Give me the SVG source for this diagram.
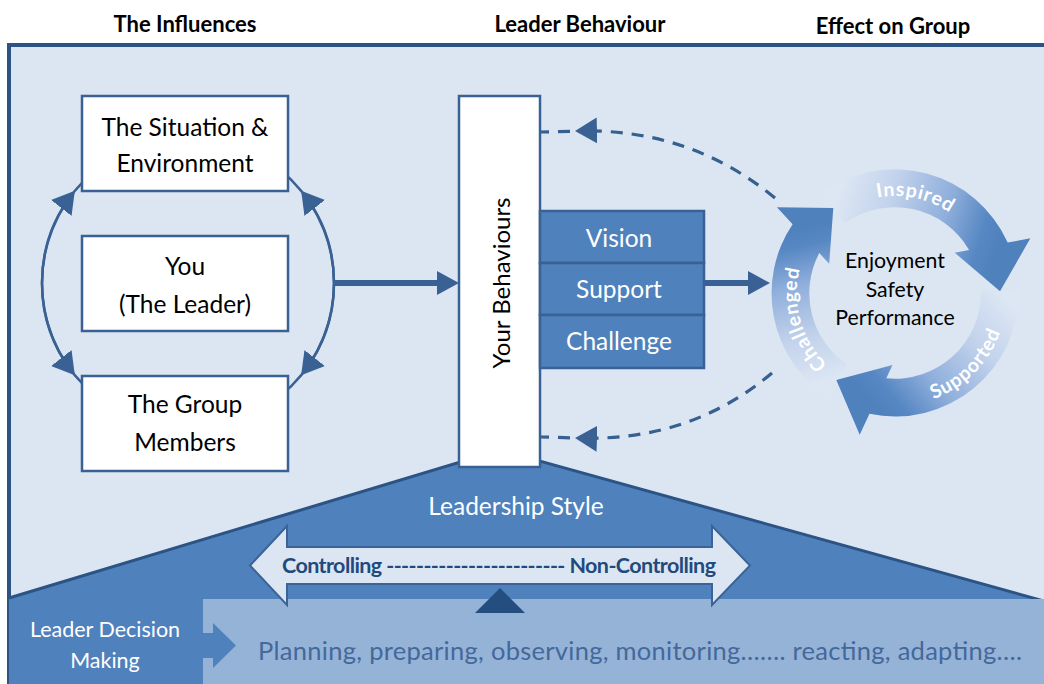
<svg xmlns="http://www.w3.org/2000/svg" width="1044" height="684" viewBox="0 0 1044 684">
  <defs>
    <style>
      .hdr { font-family: Lato, "Liberation Sans", sans-serif; font-weight: bold; font-size: 22px; fill: #000; text-anchor: middle; }
      .box { fill: #ffffff; stroke: #3a6194; stroke-width: 2.5; }
      .bbox { fill: #4f81bd; stroke: #3a6194; stroke-width: 2.5; }
      .t { font-family: Lato, "Liberation Sans", sans-serif; font-size: 24.5px; fill: #000; text-anchor: middle; }
      .tw { font-family: Lato, "Liberation Sans", sans-serif; font-size: 24.5px; fill: #fff; text-anchor: middle; }
      .arc { fill: none; stroke: #3a6194; stroke-width: 2.5; }
      .dash { fill: none; stroke: #35608f; stroke-width: 3.2; stroke-dasharray: 12 9; }
      .thick { fill: none; stroke: #3a6194; stroke-width: 6; }
      .cyc { font-family: Lato, "Liberation Sans", sans-serif; font-weight: bold; font-size: 19.5px; fill: #fff; letter-spacing: 0.8px; }
      .slope { fill: none; stroke: #2b5384; stroke-width: 3; }
    </style>
    <marker id="head" viewBox="0 0 22 26" refX="19" refY="13" markerWidth="22" markerHeight="26" markerUnits="userSpaceOnUse" orient="auto">
      <path d="M0,0 L22,13 L0,26 Z" fill="#3a6194"/>
    </marker>
    <marker id="headThick" viewBox="0 0 22 24" refX="0" refY="12" markerWidth="22" markerHeight="24" markerUnits="userSpaceOnUse" orient="auto">
      <path d="M0,0 L22,12 L0,24 Z" fill="#3a6194"/>
    </marker>
    <linearGradient id="gInsp" gradientUnits="userSpaceOnUse" x1="833" y1="208" x2="995" y2="258">
      <stop offset="0" stop-color="#dde7f4"/>
      <stop offset="0.3" stop-color="#c3d3ec"/>
      <stop offset="0.65" stop-color="#8eaedb"/>
      <stop offset="0.88" stop-color="#5888c3"/>
      <stop offset="1" stop-color="#4f81bd"/>
    </linearGradient>
    <linearGradient id="gSupp" gradientUnits="userSpaceOnUse" x1="1000" y1="291" x2="872" y2="402">
      <stop offset="0" stop-color="#dde7f4"/>
      <stop offset="0.3" stop-color="#c3d3ec"/>
      <stop offset="0.65" stop-color="#8eaedb"/>
      <stop offset="0.88" stop-color="#5888c3"/>
      <stop offset="1" stop-color="#4f81bd"/>
    </linearGradient>
    <linearGradient id="gChal" gradientUnits="userSpaceOnUse" x1="836" y1="380" x2="800" y2="228">
      <stop offset="0" stop-color="#dde7f4"/>
      <stop offset="0.3" stop-color="#c3d3ec"/>
      <stop offset="0.65" stop-color="#8eaedb"/>
      <stop offset="0.88" stop-color="#5888c3"/>
      <stop offset="1" stop-color="#4f81bd"/>
    </linearGradient>
    <path id="pInsp" d="M842.2,211.6 A97,97 0 0 1 976.4,240.2"/>
    <path id="pChal" d="M847.5,378.7 A97,97 0 0 1 809.3,245.5"/>
    <path id="pSupp" d="M895,406 A112,112 0 0 0 1007,293"/>
  </defs>

  <!-- headers -->
  <g id="headers">
    <text class="hdr" x="185" y="32">The Influences</text>
    <text class="hdr" x="580" y="32">Leader Behaviour</text>
    <text class="hdr" x="893" y="34">Effect on Group</text>
  </g>

  <!-- frame -->
  <g id="frame">
    <rect x="9" y="45" width="1045" height="650" fill="#dce6f2" stroke="#2b5384" stroke-width="4"/>
  </g>

  <!-- leadership style base -->
  <g id="leadership-style">
    <path d="M9,598 L500,450 L1044,601 L1044,684 L9,684 Z" fill="#4f81bd"/>
    <path class="slope" d="M9,598 L500,450 L1044,601"/>
    <text class="tw" x="516" y="515" style="font-size:24.5px">Leadership Style</text>
  </g>

  <g id="decision-band">
    <rect x="203" y="599" width="841" height="85" fill="#95b3d7"/>
    <path d="M203,633 L213,633 L213,623 L236,645.5 L213,668 L213,658 L203,658 Z" fill="#4f81bd"/>
    <text class="tw" style="font-size:21.5px" x="105" y="637">Leader Decision</text>
    <text class="tw" style="font-size:21.5px" x="105" y="668">Making</text>
    <text x="258" y="660" font-family="Lato, 'Liberation Sans', sans-serif" font-size="25.5" fill="#44689b" textLength="764" lengthAdjust="spacing">Planning, preparing, observing, monitoring……. reacting, adapting….</text>
  </g>

  <g id="control-arrow">
    <path d="M250,565.5 L287,526 L287,547 L712,547 L712,526 L750,565.5 L712,605 L712,584 L287,584 L287,605 Z" fill="#dce6f2" stroke="#3b6397" stroke-width="2"/>
    <text x="282" y="573" font-family="Lato, 'Liberation Sans', sans-serif" font-weight="bold" font-size="21.5" fill="#1f4a7e" textLength="434" lengthAdjust="spacing">Controlling ------------------------ Non-Controlling</text>
    <path d="M475,613 L500,588 L525,613 Z" fill="#254e80"/>
  </g>

  <!-- connectors -->
  <g id="connectors">
    <circle class="arc" cx="188" cy="283" r="146"/>
    <path class="arc" d="M42,283 A146,146 0 0 1 73,193" marker-end="url(#head)"/>
    <path class="arc" d="M42,283 A146,146 0 0 0 73,373" marker-end="url(#head)"/>
    <path class="arc" d="M334,283 A146,146 0 0 0 303,193" marker-end="url(#head)"/>
    <path class="arc" d="M334,283 A146,146 0 0 1 303,373" marker-end="url(#head)"/>
    <path class="thick" d="M334,283 L437,283" marker-end="url(#headThick)"/>
    <path class="thick" d="M704,283 L748,283" marker-end="url(#headThick)"/>
    <path class="dash" d="M775,198 Q690,128 578,131" marker-end="url(#head)"/>
    <path class="dash" d="M570,131.3 L541,132"/>
    <path class="dash" d="M772,373 Q690,442 578,438" marker-end="url(#head)"/>
    <path class="dash" d="M570,437.8 L541,437"/>
  </g>

  <!-- influence nodes -->
  <g id="node-situation">
    <rect class="box" x="82" y="96" width="206" height="95"/>
    <text class="t" x="185" y="136">The Situation &amp;</text>
    <text class="t" x="185" y="172">Environment</text>
  </g>
  <g id="node-you">
    <rect class="box" x="82" y="236" width="206" height="95"/>
    <text class="t" x="185" y="275">You</text>
    <text class="t" x="185" y="313">(The Leader)</text>
  </g>
  <g id="node-group">
    <rect class="box" x="82" y="376" width="206" height="95"/>
    <text class="t" x="185" y="413">The Group</text>
    <text class="t" x="185" y="451">Members</text>
  </g>

  <!-- behaviours -->
  <g id="node-behaviours">
    <rect class="box" x="459" y="96" width="81" height="371"/>
    <text class="t" style="font-size:24px" transform="translate(510,283) rotate(-90)" x="0" y="0">Your Behaviours</text>
  </g>
  <g id="node-vision">
    <rect class="bbox" x="540" y="211" width="164" height="52"/>
    <text class="tw" x="619" y="247">Vision</text>
  </g>
  <g id="node-support">
    <rect class="bbox" x="540" y="263" width="164" height="52"/>
    <text class="tw" x="619" y="298">Support</text>
  </g>
  <g id="node-challenge">
    <rect class="bbox" x="540" y="315" width="164" height="53"/>
    <text class="tw" x="619" y="350">Challenge</text>
  </g>

  <!-- effect on group cycle -->
  <g id="node-cycle">
    <path d="M822.1,192.7 A124,124 0 0 1 1007.7,242.6 L1030.4,238.3 L1000,291.2 L954.7,252.7 L969.1,250 A86,86 0 0 0 844.4,223.4 Z" fill="url(#gInsp)"/>
    <path d="M1019,290.8 A124,124 0 0 1 869.5,413.8 L859.7,434.7 L836.3,380 L892.5,365 L886.3,378.2 A86,86 0 0 0 981,291.5 Z" fill="url(#gSupp)"/>
    <path d="M825.7,395.8 A124,124 0 0 1 792.6,224.2 L776.9,207.2 L833.3,208.1 L829.2,263.7 L819.3,253 A86,86 0 0 0 846.9,364.3 Z" fill="url(#gChal)"/>
    <text class="cyc"><textPath href="#pInsp" startOffset="50%" text-anchor="middle">Inspired</textPath></text>
    <text class="cyc"><textPath href="#pSupp" startOffset="50%" text-anchor="middle">Supported</textPath></text>
    <text class="cyc"><textPath href="#pChal" startOffset="50%" text-anchor="middle">Challenged</textPath></text>
    <text class="t" style="font-size:21.3px" x="895" y="268">Enjoyment</text>
    <text class="t" style="font-size:21.3px" x="895" y="297">Safety</text>
    <text class="t" style="font-size:21.3px" x="895" y="325">Performance</text>
  </g>
</svg>
